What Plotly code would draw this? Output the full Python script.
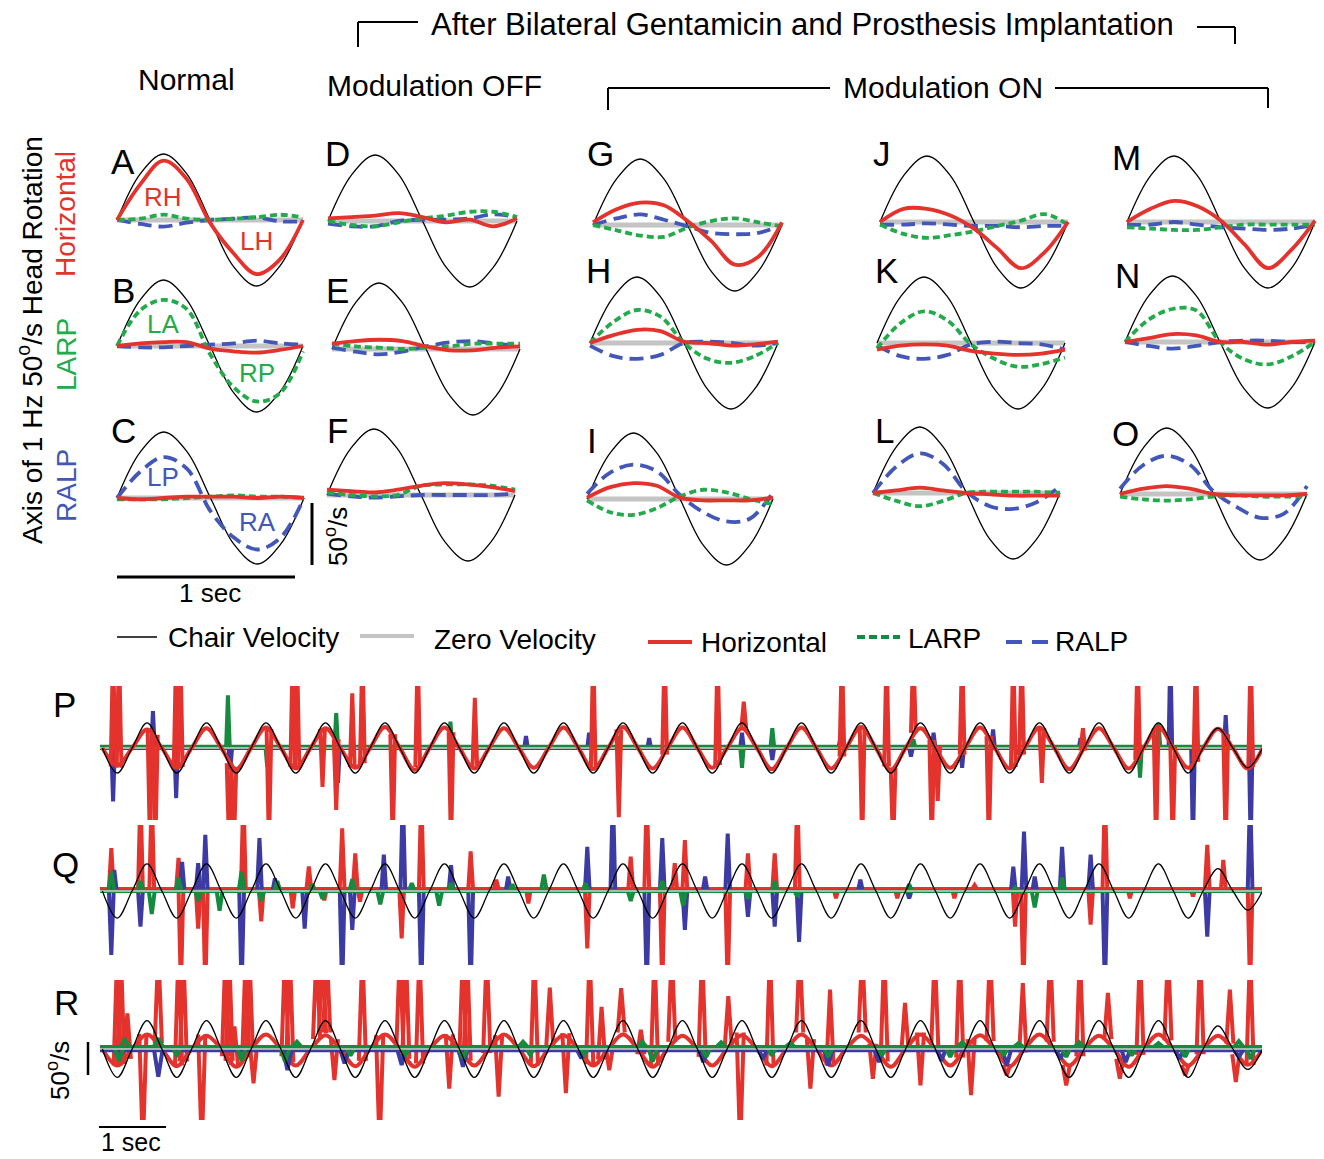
import plotly.graph_objects as go

# ====================== DATA ======================
# --- one-cycle panels A..O : velocity (deg/s) at eighths of the 1 Hz cycle ---
CYCLE_T = [0, 0.125, 0.25, 0.375, 0.5, 0.625, 0.75, 0.875, 1.0]
CHAIR_CYCLE = [0, 35, 50, 35, 0, -35, -50, -35, 0]

A_hor = [0, 27, 45, 31, -2, -25, -41, -30, 0]
A_larp = [0, 1, 4, 1, 0, 1, 2, 4, 2]
A_ralp = [0, -3, -5, -2, 0, 1, 2, -1, -1]
B_hor = [0, 2, 3, 3, -2, -4, -5, -3, 0]
B_larp = [0, 27, 35, 28, -6, -31, -42, -36, -4]
B_ralp = [0, -1, -1, 0, 1, 2, 4, 2, 1]
C_hor = [0, -1, 0, 1, 1, 1, 0, 1, 0]
C_larp = [-1, -1, -1, 0, 1, 2, 1, 1, 0]
C_ralp = [0, 20, 31, 22, -10, -30, -39, -30, 0]
D_hor = [2, 3, 4, 6, 3, -1, 1, -4, 2]
D_larp = [0, -3, -4, -1, 2, 4, 7, 7, 3]
D_ralp = [-2, -4, -4, 0, 1, 1, 2, 5, 3]
E_hor = [4, 6, 7, 6, 2, -1, -1, 1, 2]
E_larp = [4, 2, 1, 0, 1, 2, 4, 4, 4]
E_ralp = [1, -2, -4, -2, 2, 5, 6, 4, 2]
F_hor = [4, 3, 2, 4, 7, 9, 8, 6, 3]
F_larp = [2, 0, -1, 0, 7, 8, 8, 7, 4]
F_ralp = [1, -1, -2, -1, 0, 0, 0, 0, 1]
G_hor = [2, 12, 17, 15, 3, -12, -30, -24, 2]
G_larp = [0, -4, -8, -9, -2, 3, 5, 2, -1]
G_ralp = [0, 5, 8, 4, -1, -6, -7, -6, 0]
H_hor = [0, 6, 10, 9, 1, 0, -2, -1, 1]
H_larp = [0, 16, 25, 20, 0, -12, -15, -10, 0]
H_ralp = [-2, -10, -12, -9, 0, 1, 0, -2, 0]
I_hor = [1, 9, 12, 10, 1, -1, -1, -1, 1]
I_larp = [-1, -10, -12, -7, 2, 7, 5, 0, -4]
I_ralp = [4, 20, 26, 21, 3, -10, -17, -15, 5]
J_hor = [0, 10, 10, 5, -5, -20, -35, -23, 0]
J_larp = [-2, -9, -12, -10, -7, -3, 1, 6, -2]
J_ralp = [-2, -2, -1, -2, -3, -3, -4, -3, -3]
K_hor = [-5, -2, -1, -2, -6, -8, -9, -8, -5]
K_larp = [-4, 15, 24, 17, -1, -12, -18, -16, -11]
K_ralp = [-2, -10, -12, -9, -1, 1, 0, -1, -5]
L_hor = [0, 2, 4, 2, 0, -1, -2, -2, -2]
L_larp = [0, -6, -10, -6, 0, 1, 1, 1, 0]
L_ralp = [0, 20, 30, 22, 1, -10, -12, -7, 5]
M_hor = [0, 10, 16, 12, 1, -17, -35, -21, 1]
M_larp = [-4, -5, -6, -6, -4, -2, -2, -2, -2]
M_ralp = [-2, -2, 0, -2, -4, -5, -6, -5, -2]
N_hor = [0, 3, 6, 5, 0, 0, -2, 0, 1]
N_larp = [0, 17, 25, 24, 0, -13, -17, -11, 0]
N_ralp = [0, -3, -5, -3, 0, 1, 1, 0, 0]
O_hor = [0, 4, 6, 4, 0, -1, -1, -1, 0]
O_larp = [-2, -4, -5, -4, -2, -1, -2, -2, -2]
O_ralp = [4, 22, 29, 22, 2, -10, -18, -15, 6]

SMALL_DATA = {
    "A": (A_hor, A_larp, A_ralp), "B": (B_hor, B_larp, B_ralp), "C": (C_hor, C_larp, C_ralp),
    "D": (D_hor, D_larp, D_ralp), "E": (E_hor, E_larp, E_ralp), "F": (F_hor, F_larp, F_ralp),
    "G": (G_hor, G_larp, G_ralp), "H": (H_hor, H_larp, H_ralp), "I": (I_hor, I_larp, I_ralp),
    "J": (J_hor, J_larp, J_ralp), "K": (K_hor, K_larp, K_ralp), "L": (L_hor, L_larp, L_ralp),
    "M": (M_hor, M_larp, M_ralp), "N": (N_hor, N_larp, N_ralp), "O": (O_hor, O_larp, O_ralp),
}

# --- long recordings P, Q, R (time in s, velocity deg/s) ---
LONG_T_RANGE = [-0.04, 19.49]
QUARTER_T = [0.25 * i for i in range(79)]
FLAT_T = [-0.04, 19.49]

chair_P = [0,-38,0,38, 0,-38,0,38, 0,-38,0,38, 0,-38,0,38, 0,-38,0,38, 0,-38,0,38,
           0,-38,0,38, 0,-38,0,38, 0,-38,0,38, 0,-38,0,38, 0,-38,0,38, 0,-38,0,38,
           0,-38,0,38, 0,-38,0,38, 0,-38,0,38, 0,-38,0,38, 0,-38,0,38, 0,-38,0,38,
           0,-38,0,30, 0,-30,0]
chair_Q = [0,-41,0,41, 0,-41,0,41, 0,-41,0,41, 0,-41,0,41, 0,-41,0,41, 0,-41,0,41,
           0,-41,0,41, 0,-41,0,41, 0,-41,0,41, 0,-41,0,41, 0,-41,0,41, 0,-41,0,41,
           0,-41,0,41, 0,-41,0,41, 0,-41,0,41, 0,-41,0,41, 0,-41,0,41, 0,-41,0,41,
           0,-41,0,34, 0,-29,0]
chair_R = [0,-43,0,43, 0,-43,0,43, 0,-43,0,43, 0,-43,0,43, 0,-43,0,43, 0,-43,0,43,
           0,-43,0,43, 0,-43,0,43, 0,-43,0,43, 0,-43,0,43, 0,-43,0,43, 0,-43,0,43,
           0,-43,0,43, 0,-43,0,43, 0,-43,0,43, 0,-43,0,43, 0,-43,0,43, 0,-43,0,43,
           0,-43,0,35, 0,-31,0]

P_hor_base = [0,-26,0,28, 0,-30,0,30, 0,-32,0,31, 0,-31,0,30, 0,-30,0,32, 0,-33,0,31,
              0,-31,0,30, 0,-30,0,31, 0,-32,0,32, 0,-31,0,31, 0,-30,0,30, 0,-32,0,31,
              0,-31,0,32, 0,-33,0,30, 0,-30,0,31, 0,-31,0,31, 0,-32,0,30, 0,-31,0,32,
              0,-30,0,29, 0,-31,0]
P_larp_base = [2, 2]
P_ralp_base = [0, 0]
Q_hor_base = [3, 3]
Q_larp_base = [0, 0]
Q_ralp_base = [0, 0]
R_hor_base = [0,-25,0,22, 0,-26,0,20, 0,-27,0,22, 0,-25,0,21, 0,-26,0,22, 0,-27,0,20,
              0,-25,0,22, 0,-26,0,21, 0,-25,0,22, 0,-27,0,20, 0,-25,0,21, 0,-26,0,22,
              0,-25,0,20, 0,-27,0,22, 0,-25,0,21, 0,-26,0,22, 0,-25,0,20, 0,-27,0,22,
              0,-25,0,20, 0,-24,0]
R_larp_base = [3, 3]
R_ralp_base = [-2, -2]

# saccade / quick-phase spikes : (time s, peak deg/s, foot deg/s)
P_hor_spikes = [(0.18,150,-28),(0.28,150,-30),(0.80,-150,29),(0.89,-150,20),(1.24,150,-31),(1.31,150,-29),
    (2.13,-150,-23),(2.21,-150,-30),(2.80,-150,29),(3.20,150,-29),(3.27,150,-31),(3.70,-59,29),
    (3.93,-94,13),(4.20,83,-29),(4.37,150,-23),(4.88,-150,21),(5.30,150,-29),(5.86,-150,24),
    (6.26,76,-31),(8.25,150,-31),(8.68,-105,28),(9.45,150,-10),(10.34,150,-26),(10.78,70,30),
    (12.43,150,-13),(12.77,-150,31),(13.18,150,-28),(13.29,-150,-30),(13.63,150,23),(13.94,-150,12),
    (14.04,-80,3),(14.45,150,-10),(14.90,-150,18),(15.31,150,-29),(15.45,150,-10),(15.79,-53,30),
    (16.48,30,-4),(17.40,150,-18),(17.71,-150,30),(17.99,-150,2),(18.38,150,-21),(18.88,-150,21),
    (19.30,150,-29)]
P_larp_spikes = [(0.21,55,2),(2.11,80,2),(2.77,-28,2),(3.93,53,2),(5.85,40,2),(8.68,18,2),
    (10.75,-30,2),(11.26,30,2),(13.63,13,2),(17.44,-45,2),(17.75,38,2)]
P_ralp_spikes = [(0.18,-81,0),(0.85,56,0),(1.24,-76,0),(2.15,-33,0),(3.96,-53,0),(7.12,18,0),
    (8.18,23,0),(9.19,15,0),(10.75,23,0),(11.26,-18,0),(12.40,13,0),(13.59,-13,0),(13.97,23,0),
    (14.45,-30,0),(14.97,28,0),(15.41,-10,0),(16.44,15,0),(17.40,48,0),(17.95,150,0),
    (18.33,-150,0),(18.88,50,0),(19.30,-150,0)]

Q_hor_spikes = [(0.15,65,3),(0.64,150,3),(0.83,150,3),(1.28,50,3),(1.32,-150,3),(1.61,-57,3),
    (1.73,-150,3),(2.37,150,3),(2.67,-46,3),(3.20,-26,3),(3.47,37,3),(3.73,-14,3),(4.03,95,3),
    (4.25,57,3),(4.33,-16,3),(5.03,-72,3),(5.36,150,3),(6.19,60,3),(6.62,17,3),(7.16,-19,3),
    (8.15,-87,3),(8.88,52,3),(9.15,150,3),(9.41,-150,3),(9.62,42,3),(9.79,77,3),(10.51,-150,3),
    (10.85,57,3),(11.30,57,3),(11.68,150,3),(12.33,-11,3),(13.36,-11,3),(14.32,-11,3),(14.66,9,3),
    (15.34,-54,3),(15.48,-150,3),(16.61,-51,3),(16.85,150,3),(17.27,-11,3),(18.33,-8,3),
    (18.57,70,3),(18.84,47,3),(19.29,-150,3)]
Q_ralp_spikes = [(0.15,-97,0),(0.20,32,0),(0.64,-54,0),(1.34,44,0),(1.61,42,0),(1.73,85,0),
    (2.34,-150,0),(2.64,80,0),(2.90,19,0),(3.40,-57,0),(4.03,-150,0),(4.20,-59,0),(4.73,55,0),
    (5.05,150,0),(5.36,-150,0),(5.86,39,0),(6.19,-150,0),(6.82,22,0),(8.15,67,0),(8.58,150,0),
    (9.15,-150,0),(9.41,80,0),(9.79,-59,0),(10.13,22,0),(10.51,87,0),(10.85,-39,0),(11.30,-54,0),
    (11.71,-77,0),(12.74,17,0),(13.56,-11,0),(15.31,37,0),(15.49,90,0),(15.67,22,0),(16.13,67,0),
    (16.61,55,0),(16.85,-150,0),(18.57,-69,0),(19.29,150,0)]
Q_larp_spikes = [(0.15,30,0),(0.64,15,0),(0.83,-35,0),(1.28,20,0),(1.61,-15,0),(1.97,-30,0),
    (2.34,30,0),(2.67,-15,0),(2.94,15,0),(3.53,10,0),(3.70,-12,0),(4.20,18,0),(4.67,-20,0),
    (5.20,12,0),(5.66,-22,0),(5.86,12,0),(6.89,10,0),(7.42,25,0),(8.12,12,0),(8.88,-15,0),
    (9.41,15,0),(9.76,-22,0),(10.85,-12,0),(11.30,15,0),(11.68,-8,0),(13.56,10,0),(15.34,5,0),
    (15.67,-25,0),(16.13,20,0)]

R_hor_spikes = [(0.25,150,-25),(0.31,150,-23),(0.42,54,-15),(0.68,-150,23),(0.94,150,9),
    (1.28,150,-25),(1.36,150,-19),(1.67,-150,22),(2.07,150,-11),(2.13,150,-18),(2.22,34,-24),
    (2.41,150,-13),(2.47,150,-5),(2.54,-52,6),(3.07,150,-11),(3.15,150,-20),(3.60,150,15),
    (3.70,150,24),(3.77,150,25),(3.90,-47,15),(4.37,150,-18),(4.66,-150,21),(5.00,150,0),
    (5.10,150,-15),(5.33,150,-22),(5.83,-60,22),(6.06,150,-9),(6.13,150,-18),(6.46,150,-6),
    (6.66,-72,21),(7.26,150,-25),(7.52,93,3),(7.79,-67,24),(8.19,150,-23),(8.39,64,-16),
    (8.52,-32,3),(8.72,92,25),(9.05,29,-8),(9.28,150,-25),(9.57,150,11),(10.08,150,-12),
    (10.52,80,3),(10.72,-150,25),(11.22,150,-25),(11.72,150,25),(11.90,-60,15),(12.23,90,-25),
    (12.77,150,25),(12.95,-45,8),(13.14,150,-19),(13.49,70,-2),(13.75,-55,25),(13.99,150,1),
    (14.41,150,-13),(14.60,-70,15),(14.92,150,12),(15.20,-40,-24),(15.47,100,-5),(15.93,150,11),
    (16.20,-55,-24),(16.43,150,-11),(16.90,85,15),(17.10,-45,-15),(17.44,150,-9),(17.91,150,13),
    (18.20,-40,-24),(18.45,150,-8),(18.95,90,8),(19.05,-50,-8),(19.29,150,-24)]
R_larp_spikes = [(0.28,-17,3),(0.38,14,3),(0.94,16,3),(1.25,-9,3),(2.34,-17,3),(3.07,-19,3),
    (3.27,11,3),(4.17,-10,3),(5.10,-8,3),(6.06,-14,3),(7.07,11,3),(7.19,-9,3),(8.10,-8,3),
    (9.07,11,3),(9.25,-19,3),(10.15,-12,3),(10.40,10,3),(11.25,-10,3),(11.56,9,3),(12.20,-12,3),
    (13.10,-10,3),(14.25,-12,3),(14.45,10,3),(15.15,-10,3),(15.40,9,3),(16.20,-12,3),
    (16.42,10,3),(17.30,-10,3),(17.75,9,3),(18.20,-12,3),(19.10,12,3),(19.30,-15,3)]
R_ralp_spikes = [(0.28,-14,-2),(0.94,-42,-2),(3.11,-32,-2),(4.07,-22,-2),(5.03,-24,-2),
    (6.06,-27,-2),(8.05,-14,-2),(10.10,-20,-2),(11.10,-15,-2),(12.20,-25,-2),(13.05,-20,-2),
    (14.10,-18,-2),(15.20,-25,-2),(16.10,-15,-2),(17.20,-20,-2),(18.10,-15,-2),(19.10,-12,-2)]

# ====================== STYLE / LAYOUT ======================
W, H = 1324, 1159
FONT = "Liberation Sans, Arial, Helvetica, sans-serif"
RED = "#e4322d"
GREEN = "#23aa4b"
BLUE = "#4357b8"
GREEN_D = "#168a3e"
BLUE_D = "#3b3ba3"
GRAY = "#c4c4c4"

# panel pixel placement: (x_start, x_end, zero_y)
SMALL_POS = {
    "A": (117, 303, 220), "B": (117, 303, 346), "C": (117, 304, 498),
    "D": (328, 517, 221), "E": (332, 520, 349), "F": (327, 515, 495),
    "G": (593, 782, 225), "H": (590, 778, 343), "I": (587, 773, 499),
    "J": (880, 1068, 222), "K": (877, 1065, 343), "L": (873, 1060, 493),
    "M": (1127, 1315, 222), "N": (1125, 1315, 342), "O": (1120, 1307, 494),
}
PX_PER_UNIT = 1.32   # small panels: 50 deg/s = 66 px
LONG_POS = {"P": (686, 820, 748), "Q": (825, 965, 891), "R": (980, 1120, 1049)}
LONG_PX_PER_UNIT = 0.66
LONG_X = (100, 1262)


def px(x):
    return x / W


def py(y):
    return 1 - y / H


fig = go.Figure()
axes_layout = {}
axis_count = [0]


def new_axes(xdom, ydom, xr, yr):
    axis_count[0] += 1
    n = axis_count[0]
    s = "" if n == 1 else str(n)
    axes_layout["xaxis" + s] = dict(domain=xdom, range=xr, visible=False, fixedrange=True, anchor="y" + s)
    axes_layout["yaxis" + s] = dict(domain=ydom, range=yr, visible=False, fixedrange=True, anchor="x" + s)
    return "x" + s, "y" + s


def add_line(xa, ya, x, y, color, width, dash="solid", shape="spline"):
    fig.add_trace(go.Scatter(x=x, y=y, xaxis=xa, yaxis=ya, mode="lines",
                             line=dict(color=color, width=width, dash=dash, shape=shape),
                             hoverinfo="skip", showlegend=False))


# ---- small one-cycle panels ----
for key, (x0, x1, zy) in SMALL_POS.items():
    hor, larp, ralp = SMALL_DATA[key]
    w = x1 - x0
    pad = 0.03
    xdom = [px(x0 - pad * w), px(x1 + pad * w)]
    half = 60 * PX_PER_UNIT
    ydom = [py(zy + half), py(zy - half)]
    xa, ya = new_axes(xdom, ydom, [-pad, 1 + pad], [-60, 60])
    add_line(xa, ya, [0, 1], [0, 0], GRAY, 5, shape="linear")
    add_line(xa, ya, CYCLE_T, CHAIR_CYCLE, "black", 1.3)
    add_line(xa, ya, CYCLE_T, ralp, BLUE, 3.8, dash="14px,7px")
    add_line(xa, ya, CYCLE_T, larp, GREEN, 3.8, dash="7px,4px")
    add_line(xa, ya, CYCLE_T, hor, RED, 3.8)


# ---- long recordings ----
def spikes_xy(spikes, hw):
    xs, ys = [], []
    for t, pk, ft in spikes:
        xs += [t - hw, t, t + hw, None]
        ys += [ft, pk, ft, None]
    return xs, ys


LONG_DATA = {
    "P": dict(chair=chair_P,
              order=[("ralp", FLAT_T, P_ralp_base, P_ralp_spikes, BLUE_D, 0.03),
                     ("larp", FLAT_T, P_larp_base, P_larp_spikes, GREEN_D, 0.03),
                     ("gray",),
                     ("hor", QUARTER_T, P_hor_base, P_hor_spikes, RED, 0.04)]),
    "Q": dict(chair=chair_Q,
              order=[("hor", FLAT_T, Q_hor_base, Q_hor_spikes, RED, 0.04),
                     ("ralp", FLAT_T, Q_ralp_base, Q_ralp_spikes, BLUE_D, 0.04),
                     ("larp", FLAT_T, Q_larp_base, Q_larp_spikes, GREEN_D, 0.05),
                     ("gray",)]),
    "R": dict(chair=chair_R,
              order=[("hor", QUARTER_T, R_hor_base, R_hor_spikes, RED, 0.06),
                     ("ralp", FLAT_T, R_ralp_base, R_ralp_spikes, BLUE_D, 0.07),
                     ("larp", FLAT_T, R_larp_base, R_larp_spikes, GREEN_D, 0.08),
                     ("gray",)]),
}

for key, (ytop, ybot, zy) in LONG_POS.items():
    yr = [-(ybot - zy) / LONG_PX_PER_UNIT, (zy - ytop) / LONG_PX_PER_UNIT]
    xa, ya = new_axes([px(LONG_X[0]), px(LONG_X[1])], [py(ybot), py(ytop)], LONG_T_RANGE, yr)
    d = LONG_DATA[key]
    for item in d["order"]:
        if item[0] == "gray":
            add_line(xa, ya, FLAT_T, [0, 0], "#cfcfcf", 1.6, shape="linear")
            continue
        _, bt, bv, sp, col, hw = item
        add_line(xa, ya, bt, bv, col, 4, shape="spline" if len(bv) > 2 else "linear")
        sx, sy = spikes_xy(sp, hw)
        add_line(xa, ya, sx, sy, col, 4, shape="linear")
    add_line(xa, ya, QUARTER_T, d["chair"], "black", 1.3)

# ---- annotations & shapes ----
annotations = []
shapes = []


def ann(text, x, y, size=27, color="black", angle=0, xanchor="center", yanchor="middle"):
    annotations.append(dict(text=text, x=px(x), y=py(y), xref="paper", yref="paper", showarrow=False,
                            font=dict(family=FONT, size=size, color=color), textangle=angle,
                            xanchor=xanchor, yanchor=yanchor))


def seg(x0, y0, x1, y1, width=2, color="black", dash="solid"):
    shapes.append(dict(type="line", xref="paper", yref="paper", x0=px(x0), y0=py(y0), x1=px(x1), y1=py(y1),
                       line=dict(color=color, width=width, dash=dash)))


# headers
ann("After Bilateral Gentamicin and Prosthesis Implantation", 802, 25, size=31)
ann("Normal", 186, 80, size=30)
ann("Modulation OFF", 434, 85, size=30)
ann("Modulation ON", 943, 88, size=30)
seg(358, 47, 358, 22); seg(358, 22, 418, 22)
seg(1197, 27, 1235, 27); seg(1235, 27, 1235, 44)
seg(608, 110, 608, 88); seg(608, 88, 830, 88)
seg(1055, 88, 1268, 88); seg(1268, 88, 1268, 108)

# left axis labels
ann("Axis of 1 Hz 50<sup>o</sup>/s Head Rotation", 30, 340, size=28, angle=-90)
ann("Horizontal", 66, 214, size=28, color=RED, angle=-90)
ann("LARP", 66, 355, size=28, color=GREEN, angle=-90)
ann("RALP", 66, 486, size=28, color=BLUE, angle=-90)

# panel letters
LETTER_POS = {"A": (123, 161), "B": (123, 290), "C": (123, 430), "D": (337, 153), "E": (337, 290),
              "F": (337, 430), "G": (600, 153), "H": (598, 270), "I": (592, 441), "J": (882, 153),
              "K": (886, 270), "L": (884, 431), "M": (1126, 158), "N": (1127, 275), "O": (1125, 433),
              "P": (64, 705), "Q": (65, 864), "R": (66, 1002)}
for k, (x, y) in LETTER_POS.items():
    ann(k, x, y, size=35)

# in-panel direction labels
ann("RH", 163, 197, size=26, color=RED)
ann("LH", 256, 241, size=26, color=RED)
ann("LA", 163, 324, size=26, color=GREEN)
ann("RP", 257, 373, size=26, color=GREEN)
ann("LP", 163, 477, size=26, color=BLUE)
ann("RA", 257, 522, size=26, color=BLUE)

# scale bars (top)
seg(117, 577, 295, 577, width=3)
ann("1 sec", 210, 593, size=26)
seg(312, 503, 312, 565, width=3)
ann("50<sup>o</sup>/s", 336, 537, size=26, angle=-90)

# scale bars (bottom)
seg(88, 1042, 88, 1075, width=2.5)
ann("50<sup>o</sup>/s", 58, 1071, size=26, angle=-90)
seg(99, 1127, 166, 1127, width=2)
ann("1 sec", 131, 1142, size=25)

# legend
seg(117, 637, 157, 637, width=1.5)
ann("Chair Velocity", 166, 637, size=28, xanchor="left")
seg(360, 636, 414, 636, width=4, color=GRAY)
ann("Zero Velocity", 432, 639, size=28, xanchor="left")
seg(648, 642, 692, 642, width=4, color=RED)
ann("Horizontal", 699, 642, size=28, xanchor="left")
seg(857, 637, 900, 637, width=4, color=GREEN_D, dash="8px,4px")
ann("LARP", 906, 638, size=28, xanchor="left")
seg(1006, 642, 1050, 642, width=4, color=BLUE, dash="16px,10px")
ann("RALP", 1053, 641, size=28, xanchor="left")

fig.update_layout(width=W, height=H, margin=dict(l=0, r=0, t=0, b=0), autosize=False,
                  paper_bgcolor="white", plot_bgcolor="rgba(0,0,0,0)", showlegend=False,
                  annotations=annotations, shapes=shapes, **axes_layout)
fig.write_html("out.html")
